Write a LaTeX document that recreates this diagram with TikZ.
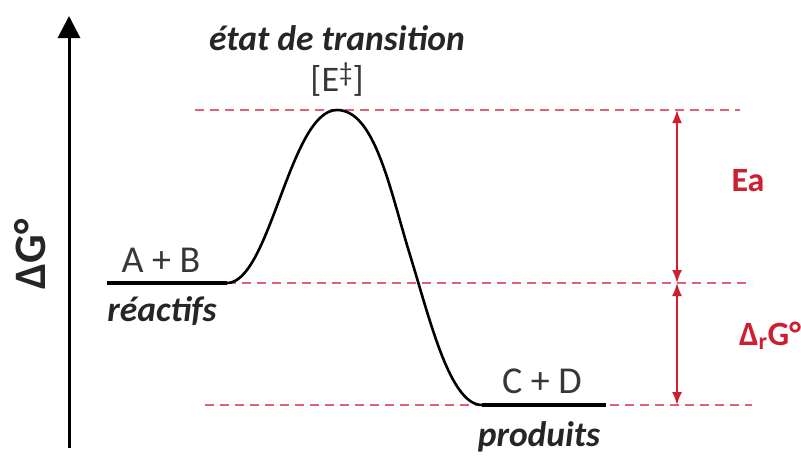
\documentclass[tikz,border=0pt]{standalone}
\usepackage{fontspec}
\setmainfont{Carlito}
\usetikzlibrary{arrows.meta}
\definecolor{dashred}{RGB}{228,95,115}
\definecolor{arrred}{RGB}{205,30,50}
\definecolor{txtgray}{RGB}{55,55,55}
\tikzset{
  level/.style={draw=dashred, line width=1.4pt, dash pattern=on 9pt off 6pt},
  statebar/.style={draw=black, line width=4pt},
  curveline/.style={draw=black, line width=2.6pt},
  redarrow/.style={draw=arrred, line width=1.8pt, {Latex[length=13pt,width=10pt]}-{Latex[length=13pt,width=10pt]}},
  axisline/.style={draw=black, line width=3pt, -{Triangle[length=22pt,width=22pt]}},
  species/.style={inner sep=0pt, text=txtgray, font=\fontsize{38}{44}\selectfont},
  bilabel/.style={inner sep=0pt, text=black!85, font=\fontsize{35.5}{40}\selectfont\bfseries\itshape},
  redlabel/.style={inner sep=0pt, text=arrred, font=\fontsize{34}{40}\selectfont\bfseries}
}
\begin{document}
\begin{tikzpicture}[x=1pt,y=-1pt]
\useasboundingbox (0,0) rectangle (801,456);
% coordinates of levels
\coordinate (topL) at (195,110);
\coordinate (topR) at (740,110);
\coordinate (midL) at (227,283);
\coordinate (midR) at (752,283);
\coordinate (botL) at (205,405);
\coordinate (botR) at (752,405);
\coordinate (peak) at (337,110);
\coordinate (reacL) at (107,283);
\coordinate (prodL) at (482,405);
\coordinate (prodR) at (606,405);
\coordinate (axB) at (69,448);
\coordinate (axT) at (69,16);
\coordinate (eaT) at (677,110);
\coordinate (eaB) at (677,283);
\coordinate (grB) at (677,405);

% dashed levels
\draw[level] (topL) -- (topR);
\draw[level] (midL) -- (midR);
\draw[level] (botL) -- (botR);

% axis
\draw[axisline] (axB) -- (axT);
\node[rotate=90, inner sep=0pt, text=black!85, font=\fontsize{45}{50}\selectfont\bfseries] (dg) at (30,254) {ΔG°};

% reaction profile
\draw[statebar] (reacL) -- (midL);
\draw[statebar] (prodL) -- (prodR);
\draw[curveline] (midL) .. controls (270,283) and (290,110) .. (peak)
  .. controls (375,110) and (390,190) .. (410,255)
  .. controls (430,320) and (450,405) .. (prodL);

% arrows
\draw[redarrow] (eaT) -- (eaB);
\draw[redarrow] (eaB) -- (grB);

% labels
\node[bilabel] (ts) at (337,38) {état de transition};
\node[species, font=\fontsize{36}{42}\selectfont] (ets) at (337,80) {[E\raisebox{0.28em}{\fontsize{27}{30}\selectfont ‡}]};
\node[species] (ab) at (161,260) {A + B};
\node[bilabel] (reac) at (162,311) {réactifs};
\node[species] (cd) at (542,381) {C + D};
\node[bilabel] (prod) at (539,437) {produits};
\node[redlabel] (ea) at (748,181) {Ea};
\node[redlabel] (drg) at (770,336) {Δ\textsubscript{r}G°};
\end{tikzpicture}
\end{document}
